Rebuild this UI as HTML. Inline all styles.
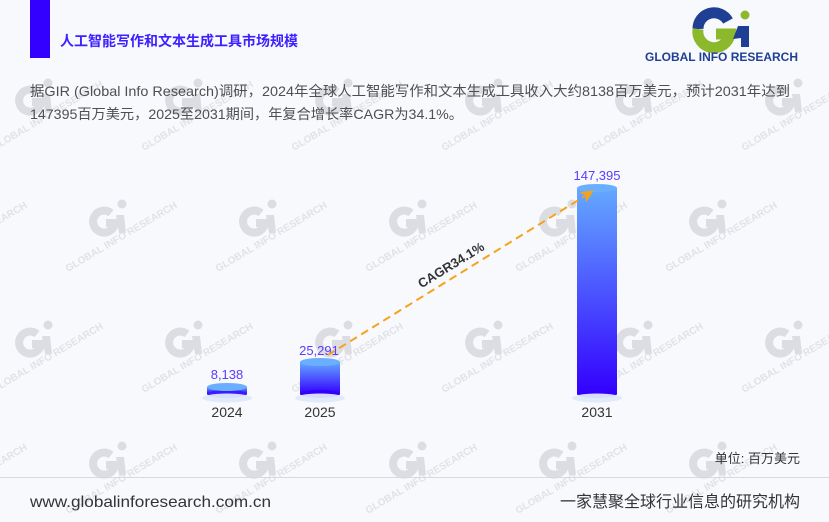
<!DOCTYPE html>
<html>
<head>
<meta charset="utf-8">
<style>
  html,body{margin:0;padding:0;background:#f8f9fd;}
  svg{display:block;}
</style>
</head>
<body>
<svg width="829" height="522" viewBox="0 0 829 522" xmlns="http://www.w3.org/2000/svg" font-family="'Liberation Sans','Noto Sans CJK SC',sans-serif">
  <defs>
    <linearGradient id="bar" x1="0" y1="0" x2="0" y2="1">
      <stop offset="0" stop-color="#64a9ff"/>
      <stop offset="1" stop-color="#3300ff"/>
    </linearGradient>
    <style>
      .wg{stroke:#dcdde2;stroke-width:8;fill:none;}
      .wf{fill:#dcdde2;}
      .wt{font-size:10px;font-weight:bold;fill:#e1e2e7;}
    </style>
  </defs>
  <rect x="0" y="0" width="829" height="522" fill="#f8f9fd"/>

  <!-- watermarks -->
  <g>
    <!-- row 0 y=100 -->
    <g transform="translate(30,100)"><path class="wg" d="M7,-8 A11 11 0 1 0 11,2 L2,2"/><circle class="wf" cx="18" cy="-17" r="4.5"/><path class="wf" d="M12,-6 L20,-6 L22,12 L15,12 Z"/><text class="wt" transform="translate(-36,51) rotate(-30.6)">GLOBAL INFO RESEARCH</text></g>
    <g transform="translate(180,100)"><path class="wg" d="M7,-8 A11 11 0 1 0 11,2 L2,2"/><circle class="wf" cx="18" cy="-17" r="4.5"/><path class="wf" d="M12,-6 L20,-6 L22,12 L15,12 Z"/><text class="wt" transform="translate(-36,51) rotate(-30.6)">GLOBAL INFO RESEARCH</text></g>
    <g transform="translate(330,100)"><path class="wg" d="M7,-8 A11 11 0 1 0 11,2 L2,2"/><circle class="wf" cx="18" cy="-17" r="4.5"/><path class="wf" d="M12,-6 L20,-6 L22,12 L15,12 Z"/><text class="wt" transform="translate(-36,51) rotate(-30.6)">GLOBAL INFO RESEARCH</text></g>
    <g transform="translate(480,100)"><path class="wg" d="M7,-8 A11 11 0 1 0 11,2 L2,2"/><circle class="wf" cx="18" cy="-17" r="4.5"/><path class="wf" d="M12,-6 L20,-6 L22,12 L15,12 Z"/><text class="wt" transform="translate(-36,51) rotate(-30.6)">GLOBAL INFO RESEARCH</text></g>
    <g transform="translate(630,100)"><path class="wg" d="M7,-8 A11 11 0 1 0 11,2 L2,2"/><circle class="wf" cx="18" cy="-17" r="4.5"/><path class="wf" d="M12,-6 L20,-6 L22,12 L15,12 Z"/><text class="wt" transform="translate(-36,51) rotate(-30.6)">GLOBAL INFO RESEARCH</text></g>
    <g transform="translate(780,100)"><path class="wg" d="M7,-8 A11 11 0 1 0 11,2 L2,2"/><circle class="wf" cx="18" cy="-17" r="4.5"/><path class="wf" d="M12,-6 L20,-6 L22,12 L15,12 Z"/><text class="wt" transform="translate(-36,51) rotate(-30.6)">GLOBAL INFO RESEARCH</text></g>
    <!-- row 1 y=221 -->
    <g transform="translate(-46,221)"><path class="wg" d="M7,-8 A11 11 0 1 0 11,2 L2,2"/><circle class="wf" cx="18" cy="-17" r="4.5"/><path class="wf" d="M12,-6 L20,-6 L22,12 L15,12 Z"/><text class="wt" transform="translate(-36,51) rotate(-30.6)">GLOBAL INFO RESEARCH</text></g>
    <g transform="translate(104,221)"><path class="wg" d="M7,-8 A11 11 0 1 0 11,2 L2,2"/><circle class="wf" cx="18" cy="-17" r="4.5"/><path class="wf" d="M12,-6 L20,-6 L22,12 L15,12 Z"/><text class="wt" transform="translate(-36,51) rotate(-30.6)">GLOBAL INFO RESEARCH</text></g>
    <g transform="translate(254,221)"><path class="wg" d="M7,-8 A11 11 0 1 0 11,2 L2,2"/><circle class="wf" cx="18" cy="-17" r="4.5"/><path class="wf" d="M12,-6 L20,-6 L22,12 L15,12 Z"/><text class="wt" transform="translate(-36,51) rotate(-30.6)">GLOBAL INFO RESEARCH</text></g>
    <g transform="translate(404,221)"><path class="wg" d="M7,-8 A11 11 0 1 0 11,2 L2,2"/><circle class="wf" cx="18" cy="-17" r="4.5"/><path class="wf" d="M12,-6 L20,-6 L22,12 L15,12 Z"/><text class="wt" transform="translate(-36,51) rotate(-30.6)">GLOBAL INFO RESEARCH</text></g>
    <g transform="translate(554,221)"><path class="wg" d="M7,-8 A11 11 0 1 0 11,2 L2,2"/><circle class="wf" cx="18" cy="-17" r="4.5"/><path class="wf" d="M12,-6 L20,-6 L22,12 L15,12 Z"/><text class="wt" transform="translate(-36,51) rotate(-30.6)">GLOBAL INFO RESEARCH</text></g>
    <g transform="translate(704,221)"><path class="wg" d="M7,-8 A11 11 0 1 0 11,2 L2,2"/><circle class="wf" cx="18" cy="-17" r="4.5"/><path class="wf" d="M12,-6 L20,-6 L22,12 L15,12 Z"/><text class="wt" transform="translate(-36,51) rotate(-30.6)">GLOBAL INFO RESEARCH</text></g>
    <!-- row 2 y=342 -->
    <g transform="translate(30,342)"><path class="wg" d="M7,-8 A11 11 0 1 0 11,2 L2,2"/><circle class="wf" cx="18" cy="-17" r="4.5"/><path class="wf" d="M12,-6 L20,-6 L22,12 L15,12 Z"/><text class="wt" transform="translate(-36,51) rotate(-30.6)">GLOBAL INFO RESEARCH</text></g>
    <g transform="translate(180,342)"><path class="wg" d="M7,-8 A11 11 0 1 0 11,2 L2,2"/><circle class="wf" cx="18" cy="-17" r="4.5"/><path class="wf" d="M12,-6 L20,-6 L22,12 L15,12 Z"/><text class="wt" transform="translate(-36,51) rotate(-30.6)">GLOBAL INFO RESEARCH</text></g>
    <g transform="translate(330,342)"><path class="wg" d="M7,-8 A11 11 0 1 0 11,2 L2,2"/><circle class="wf" cx="18" cy="-17" r="4.5"/><path class="wf" d="M12,-6 L20,-6 L22,12 L15,12 Z"/><text class="wt" transform="translate(-36,51) rotate(-30.6)">GLOBAL INFO RESEARCH</text></g>
    <g transform="translate(480,342)"><path class="wg" d="M7,-8 A11 11 0 1 0 11,2 L2,2"/><circle class="wf" cx="18" cy="-17" r="4.5"/><path class="wf" d="M12,-6 L20,-6 L22,12 L15,12 Z"/><text class="wt" transform="translate(-36,51) rotate(-30.6)">GLOBAL INFO RESEARCH</text></g>
    <g transform="translate(630,342)"><path class="wg" d="M7,-8 A11 11 0 1 0 11,2 L2,2"/><circle class="wf" cx="18" cy="-17" r="4.5"/><path class="wf" d="M12,-6 L20,-6 L22,12 L15,12 Z"/><text class="wt" transform="translate(-36,51) rotate(-30.6)">GLOBAL INFO RESEARCH</text></g>
    <g transform="translate(780,342)"><path class="wg" d="M7,-8 A11 11 0 1 0 11,2 L2,2"/><circle class="wf" cx="18" cy="-17" r="4.5"/><path class="wf" d="M12,-6 L20,-6 L22,12 L15,12 Z"/><text class="wt" transform="translate(-36,51) rotate(-30.6)">GLOBAL INFO RESEARCH</text></g>
    <!-- row 3 y=463 -->
    <g transform="translate(-46,463)"><path class="wg" d="M7,-8 A11 11 0 1 0 11,2 L2,2"/><circle class="wf" cx="18" cy="-17" r="4.5"/><path class="wf" d="M12,-6 L20,-6 L22,12 L15,12 Z"/><text class="wt" transform="translate(-36,51) rotate(-30.6)">GLOBAL INFO RESEARCH</text></g>
    <g transform="translate(104,463)"><path class="wg" d="M7,-8 A11 11 0 1 0 11,2 L2,2"/><circle class="wf" cx="18" cy="-17" r="4.5"/><path class="wf" d="M12,-6 L20,-6 L22,12 L15,12 Z"/><text class="wt" transform="translate(-36,51) rotate(-30.6)">GLOBAL INFO RESEARCH</text></g>
    <g transform="translate(254,463)"><path class="wg" d="M7,-8 A11 11 0 1 0 11,2 L2,2"/><circle class="wf" cx="18" cy="-17" r="4.5"/><path class="wf" d="M12,-6 L20,-6 L22,12 L15,12 Z"/><text class="wt" transform="translate(-36,51) rotate(-30.6)">GLOBAL INFO RESEARCH</text></g>
    <g transform="translate(404,463)"><path class="wg" d="M7,-8 A11 11 0 1 0 11,2 L2,2"/><circle class="wf" cx="18" cy="-17" r="4.5"/><path class="wf" d="M12,-6 L20,-6 L22,12 L15,12 Z"/><text class="wt" transform="translate(-36,51) rotate(-30.6)">GLOBAL INFO RESEARCH</text></g>
    <g transform="translate(554,463)"><path class="wg" d="M7,-8 A11 11 0 1 0 11,2 L2,2"/><circle class="wf" cx="18" cy="-17" r="4.5"/><path class="wf" d="M12,-6 L20,-6 L22,12 L15,12 Z"/><text class="wt" transform="translate(-36,51) rotate(-30.6)">GLOBAL INFO RESEARCH</text></g>
    <g transform="translate(704,463)"><path class="wg" d="M7,-8 A11 11 0 1 0 11,2 L2,2"/><circle class="wf" cx="18" cy="-17" r="4.5"/><path class="wf" d="M12,-6 L20,-6 L22,12 L15,12 Z"/><text class="wt" transform="translate(-36,51) rotate(-30.6)">GLOBAL INFO RESEARCH</text></g>
  </g>

  <!-- header -->
  <rect x="30" y="0" width="20" height="58" fill="#3300ff"/>
  <text x="60" y="46" font-size="14" font-weight="bold" fill="#3d1fff" textLength="238" lengthAdjust="spacingAndGlyphs">人工智能写作和文本生成工具市场规模</text>

  <!-- logo -->
  <g>
    <path d="M698,29 A16 16 0 0 1 728,21" stroke="#1e3f94" stroke-width="11" fill="none"/>
    <path d="M698,29 A16 16 0 0 0 730,34 L716,34" stroke="#8cb82b" stroke-width="11" fill="none"/>
    <circle cx="745" cy="15" r="4.5" fill="#8cb82b"/>
    <path d="M738,26 L749,26 L749,47 L741,47 L741,38 L733,39 Z" fill="#1e3f94"/>
    <text x="645" y="61" font-size="12" font-weight="bold" fill="#1e3f94" textLength="153" lengthAdjust="spacingAndGlyphs">GLOBAL INFO RESEARCH</text>
  </g>

  <!-- description -->
  <text x="30" y="96" font-size="14" fill="#4f4f4f" textLength="760" lengthAdjust="spacingAndGlyphs">据GIR (Global Info Research)调研，2024年全球人工智能写作和文本生成工具收入大约8138百万美元，预计2031年达到</text>
  <text x="30" y="119" font-size="14" fill="#4f4f4f" textLength="433" lengthAdjust="spacingAndGlyphs">147395百万美元，2025至2031期间，年复合增长率CAGR为34.1%。</text>

  <!-- bars -->
  <!-- 2024 -->
  <rect x="207" y="387" width="40" height="7" fill="url(#bar)"/>
  <ellipse cx="227" cy="394" rx="20" ry="4" fill="#3a1cff"/>
  <ellipse cx="227" cy="387" rx="20" ry="4" fill="#6aaeff"/>
  <ellipse cx="227" cy="398" rx="25" ry="4.5" fill="#dfe9fa" opacity="0.95"/>
  <!-- 2025 -->
  <rect x="300" y="362" width="40" height="32" fill="url(#bar)"/>
  <ellipse cx="320" cy="394" rx="20" ry="4" fill="#3300ff"/>
  <ellipse cx="320" cy="362" rx="20" ry="4" fill="#6aaeff"/>
  <ellipse cx="320" cy="398" rx="25" ry="4.5" fill="#dfe9fa" opacity="0.95"/>
  <!-- 2031 -->
  <rect x="577" y="188" width="40" height="206" fill="url(#bar)"/>
  <ellipse cx="597" cy="394" rx="20" ry="4" fill="#3300ff"/>
  <ellipse cx="597" cy="188" rx="20" ry="4" fill="#6aaeff"/>
  <ellipse cx="597" cy="398" rx="25" ry="4.5" fill="#dfe9fa" opacity="0.95"/>

  <!-- value labels -->
  <g font-size="13" fill="#5a3cff" text-anchor="middle">
    <text x="227" y="379">8,138</text>
    <text x="319" y="355">25,291</text>
    <text x="597" y="180">147,395</text>
  </g>

  <!-- x labels -->
  <g font-size="14" fill="#333" text-anchor="middle">
    <text x="227" y="417">2024</text>
    <text x="320" y="417">2025</text>
    <text x="597" y="417">2031</text>
  </g>

  <!-- CAGR arrow -->
  <line x1="328" y1="355" x2="585" y2="196" stroke="#f6a31c" stroke-width="2" stroke-dasharray="8 5"/>
  <path d="M593,191 L586.2,201.1 L586.2,195.2 L581,192.5 Z" fill="#f6a31c" stroke="#f6a31c" stroke-width="1" stroke-linejoin="round"/>
  <text transform="translate(451,265) rotate(-31.6)" x="0" y="4.5" font-size="13" font-weight="bold" fill="#333" text-anchor="middle">CAGR34.1%</text>

  <!-- unit -->
  <text x="800" y="463" font-size="13" fill="#333" text-anchor="end">单位: 百万美元</text>

  <!-- footer -->
  <line x1="0" y1="477.5" x2="829" y2="477.5" stroke="#d9d9dd" stroke-width="1"/>
  <text x="30" y="507" font-size="16" fill="#333" textLength="241" lengthAdjust="spacingAndGlyphs">www.globalinforesearch.com.cn</text>
  <text x="800" y="507" font-size="16" fill="#333" text-anchor="end">一家慧聚全球行业信息的研究机构</text>
</svg>
</body>
</html>
